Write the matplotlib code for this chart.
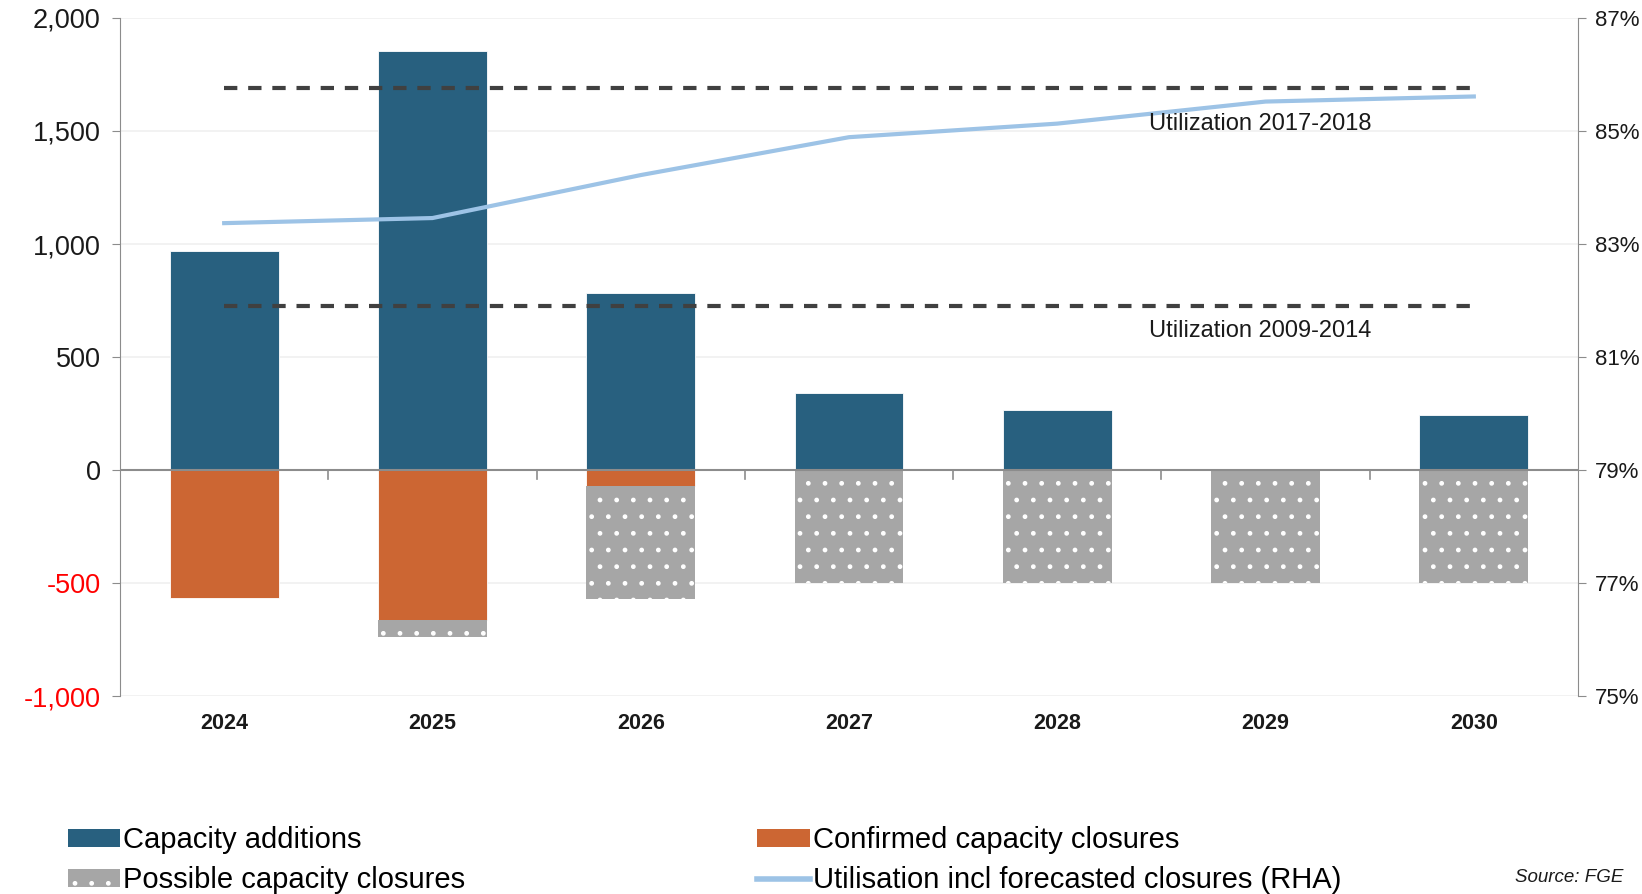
import matplotlib.pyplot as plt
import matplotlib.patches as mpatches
from matplotlib.lines import Line2D
from matplotlib.ticker import FuncFormatter, MultipleLocator

plt.rcParams['font.family'] = ['Liberation Sans', 'DejaVu Sans']
plt.rcParams['hatch.linewidth'] = 1.0

# ─── Data ──────────────────────────────────────────────────────────────────
years = ['2024', '2025', '2026', '2027', '2028', '2029', '2030']
additions = [970, 1855, 785, 340, 265, 0, 245]
confirmed = [-565, -662, -70, 0, 0, 0, 0]
possible = [0, -75, -500, -500, -500, -500, -500]
utilisation = [83.37, 83.46, 84.22, 84.89, 85.13, 85.52, 85.61]   # % (RHA)
util_2017_2018 = 85.76
util_2009_2014 = 81.90
util_ticks = [75, 77, 79, 81, 83, 85, 87]

# ─── Colours ───────────────────────────────────────────────────────────────
C_ADD = '#28607F'
C_CONF = '#CC6633'
C_POSS = '#A6A6A6'
C_LINE = '#9DC3E6'
C_DASH = '#404040'
C_AXIS = '#8C8C8C'
C_GRID = '#F0F0F0'

fig = plt.figure(figsize=(16.42, 8.94), dpi=100)
ax = fig.add_axes([0.0731, 0.221, 0.8879, 0.759])
x = list(range(len(years)))
w = 0.523

ax.bar(x, additions, w, color=C_ADD, edgecolor='white', lw=0.6, zorder=3)
ax.bar(x, confirmed, w, color=C_CONF, edgecolor='white', lw=0.6, zorder=3)
ax.bar(x, possible, w, bottom=confirmed, color=C_POSS, edgecolor='white',
       hatch='.', lw=0, zorder=3)

ax.set_xlim(-0.5, len(years) - 0.5)
ax.set_ylim(-1000, 2000)
ax.yaxis.set_major_locator(MultipleLocator(500))
ax.yaxis.set_major_formatter(FuncFormatter(lambda v, p: f'{v:,.0f}'))
ax.grid(axis='y', color=C_GRID, lw=1.2, zorder=0)
ax.axhline(0, color=C_AXIS, lw=1.5, zorder=4)

for s in ['top', 'right', 'bottom']:
    ax.spines[s].set_visible(False)
ax.spines['left'].set_color(C_AXIS)
ax.tick_params(axis='y', labelsize=19.5, colors=C_AXIS, labelcolor='#1A1A1A',
               length=6, pad=8)
for lbl, v in zip(ax.get_yticklabels(), ax.get_yticks()):
    if v < 0:
        lbl.set_color('red')

# category labels below the plot, boundary ticks hanging from the zero line
ax.set_xticks(x)
ax.set_xticklabels(years, fontsize=15.5, fontweight='bold', color='#1A1A1A')
ax.tick_params(axis='x', length=0, pad=12)
for b in range(1, len(years)):
    ax.plot([b - 0.5, b - 0.5], [0, -40], color=C_AXIS, lw=1.2, zorder=4)

# ─── Right axis: utilisation ───────────────────────────────────────────────
ax2 = ax.twinx()
ax2.set_ylim(util_ticks[0], util_ticks[-1])
ax2.set_yticks(util_ticks)
ax2.yaxis.set_major_formatter(FuncFormatter(lambda v, p: f'{v:.0f}%'))
for s in ['top', 'left', 'bottom']:
    ax2.spines[s].set_visible(False)
ax2.spines['right'].set_color(C_AXIS)
ax2.tick_params(axis='y', labelsize=16, colors=C_AXIS, labelcolor='#1A1A1A',
                length=6, pad=6)

ax2.plot(x, utilisation, color=C_LINE, lw=3, zorder=5)
ax2.plot([x[0], x[-1]], [util_2017_2018] * 2, color=C_DASH, lw=3,
         dashes=(3.2, 2.6), zorder=5)
ax2.plot([x[0], x[-1]], [util_2009_2014] * 2, color=C_DASH, lw=3,
         dashes=(3.2, 2.6), zorder=5)
ax2.text(4.44, 85.12, 'Utilization 2017-2018', fontsize=17, color='#1A1A1A',
         ha='left', va='center', zorder=6)
ax2.text(4.44, 81.47, 'Utilization 2009-2014', fontsize=17, color='#1A1A1A',
         ha='left', va='center', zorder=6)

# ─── Legend ────────────────────────────────────────────────────────────────
handles = [
    mpatches.Patch(facecolor=C_ADD, edgecolor='none', label='Capacity additions'),
    mpatches.Patch(facecolor=C_POSS, edgecolor='white', hatch='.', lw=0,
                   label='Possible capacity closures'),
    mpatches.Patch(facecolor=C_CONF, edgecolor='none',
                   label='Confirmed capacity closures'),
    Line2D([], [], color=C_LINE, lw=4,
           label='Utilisation incl forecasted closures (RHA)'),
]
fig.legend(handles=handles, ncol=2, loc='upper left',
           bbox_to_anchor=(0.0414, 0.076), frameon=False, fontsize=21,
           handlelength=1.8, handleheight=0.6, handletextpad=0.1,
           columnspacing=10.0, labelspacing=0.42, borderpad=0,
           borderaxespad=0)

fig.text(0.9885, 0.0183, 'Source: FGE', fontsize=13.5, style='italic',
         ha='right', va='center', color='#1A1A1A')

fig.savefig('out.png', dpi=100, facecolor='white')
